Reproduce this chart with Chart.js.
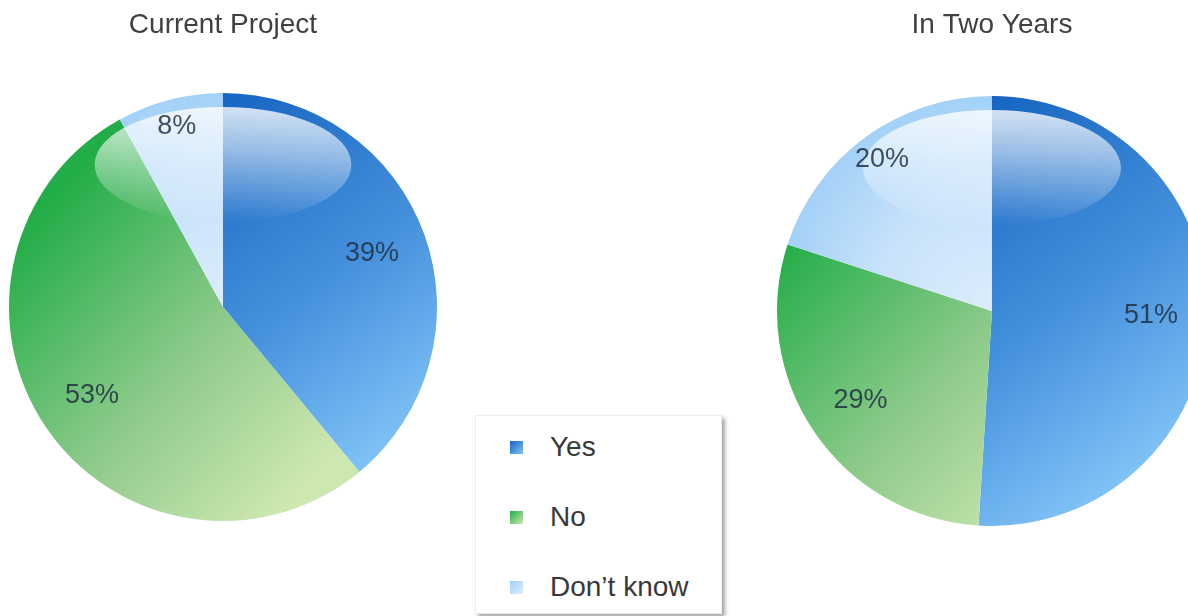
<!DOCTYPE html>
<html>
<head>
<meta charset="utf-8">
<script src="https://cdn.jsdelivr.net/npm/chart.js@4"></script>
<style>
  html, body { margin: 0; padding: 0; background: #fff; width: 1188px; height: 616px; overflow: hidden; }
  .pie { position: absolute; top: 0; }
  #leftBox { left: 9px; }
  #rightBox { left: 777px; }
  #legend {
    position: absolute; left: 475px; top: 415px; width: 245px; height: 197px;
    background: #fff; border: 1px solid #eeeeee;
    box-shadow: 3px 3px 4px rgba(0,0,0,0.35);
    font-family: "Liberation Sans", Arial, sans-serif; font-size: 28px; color: #383838;
  }
  #legend .item { position: absolute; left: 0; height: 32px; display: flex; align-items: center; }
  #legend .mark { width: 13px; height: 13px; margin-left: 34px; margin-right: 27px; }
</style>
</head>
<body>
<div id="leftBox" class="pie"><canvas id="leftChart" width="428" height="521"></canvas></div>
<div id="rightBox" class="pie"><canvas id="rightChart" width="430" height="526"></canvas></div>
<div id="legend"></div>

<script>
// data
const categories = ['Yes', 'No', 'Don’t know'];
const currentProject = [39, 53, 8];
const inTwoYears = [51, 29, 20];
const chartTitles = ['Current Project', 'In Two Years'];

// dark -> light stops for each category
const palette = [
  ['#1463c0', '#4590dc', '#80c3f7'],
  ['#22ad48', '#8dca8a', '#cde7b0'],
  ['#dcedfc', '#c8e2fa', '#a3d1f7']
];

function pieGeom(chart) {
  const a = chart.chartArea;
  return { cx: (a.left + a.right) / 2, cy: (a.top + a.bottom) / 2, r: Math.min(a.width, a.height) / 2 };
}

function sliceFill(ctx) {
  const chart = ctx.chart;
  const i = ctx.dataIndex;
  const stops = palette[i];
  if (!chart.chartArea) return stops[1];
  const { cx, cy, r } = pieGeom(chart);
  const c = chart.ctx;
  let g;
  if (i === 0) {
    g = c.createLinearGradient(cx - 0.2 * r, cy - 0.9 * r, cx + 0.9 * r, cy + 0.6 * r);
  } else if (i === 1) {
    g = c.createLinearGradient(cx - r, cy - 0.3 * r, cx + 0.3 * r, cy + 0.9 * r);
  } else {
    g = c.createRadialGradient(cx, cy, 0, cx, cy, r);
  }
  g.addColorStop(0, stops[0]);
  g.addColorStop(0.55, stops[1]);
  g.addColorStop(1, stops[2]);
  return g;
}

// glossy highlight on the upper half
const glossPlugin = {
  id: 'gloss',
  afterDatasetsDraw(chart) {
    const { cx, cy, r } = pieGeom(chart);
    const c = chart.ctx;
    c.save();
    c.beginPath();
    c.arc(cx, cy, r, 0, Math.PI * 2);
    c.clip();
    const g = c.createLinearGradient(0, cy - 0.93 * r, 0, cy - 0.4 * r);
    g.addColorStop(0, 'rgba(255,255,255,0.8)');
    g.addColorStop(0.35, 'rgba(255,255,255,0.55)');
    g.addColorStop(1, 'rgba(255,255,255,0.0)');
    c.fillStyle = g;
    c.beginPath();
    c.ellipse(cx, cy - 0.665 * r, 0.6 * r, 0.27 * r, 0, 0, Math.PI * 2);
    c.fill();
    c.restore();
  }
};

// percentage labels inside the slices
const pctPlugin = {
  id: 'pct',
  afterDatasetsDraw(chart) {
    const c = chart.ctx;
    const meta = chart.getDatasetMeta(0);
    const values = chart.data.datasets[0].data;
    c.save();
    c.font = '27px "Liberation Sans", Arial, sans-serif';
    c.fillStyle = 'rgba(30,48,66,0.85)';
    c.textAlign = 'center';
    c.textBaseline = 'middle';
    meta.data.forEach((arc, i) => {
      const p = arc.getProps(['x', 'y', 'startAngle', 'endAngle', 'outerRadius'], true);
      const mid = (p.startAngle + p.endAngle) / 2;
      const f = values[i] < 25 ? 0.87 : 0.74;
      c.fillText(values[i] + '%', p.x + Math.cos(mid) * p.outerRadius * f, p.y + Math.sin(mid) * p.outerRadius * f);
    });
    c.restore();
  }
};

function makePie(id, title, values, padBottom) {
  return new Chart(document.getElementById(id), {
    type: 'pie',
    data: {
      labels: categories,
      datasets: [{ data: values, backgroundColor: sliceFill, borderWidth: 0 }]
    },
    options: {
      responsive: false,
      animation: false,
      layout: { padding: 0 },
      plugins: {
        legend: { display: false },
        tooltip: { enabled: false },
        title: {
          display: true,
          text: title,
          color: '#404040',
          font: { family: '"Liberation Sans", Arial, sans-serif', size: 28, weight: 'normal' },
          padding: { top: 8, bottom: padBottom }
        }
      }
    },
    plugins: [glossPlugin, pctPlugin]
  });
}

const leftChart = makePie('leftChart', chartTitles[0], currentProject, 51.4);
const rightChart = makePie('rightChart', chartTitles[1], inTwoYears, 54.4);

// html legend shared by both pies
const legendEl = document.getElementById('legend');
const itemTops = [15, 85, 155];
leftChart.data.labels.forEach((label, i) => {
  const item = document.createElement('div');
  item.className = 'item';
  item.style.top = itemTops[i] + 'px';
  const mark = document.createElement('span');
  mark.className = 'mark';
  mark.style.background = 'linear-gradient(135deg, ' + palette[i][i === 2 ? 2 : 0] + ', ' + palette[i][i === 2 ? 0 : 2] + ')';
  const text = document.createElement('span');
  text.textContent = label;
  item.appendChild(mark);
  item.appendChild(text);
  legendEl.appendChild(item);
});
</script>
</body>
</html>
